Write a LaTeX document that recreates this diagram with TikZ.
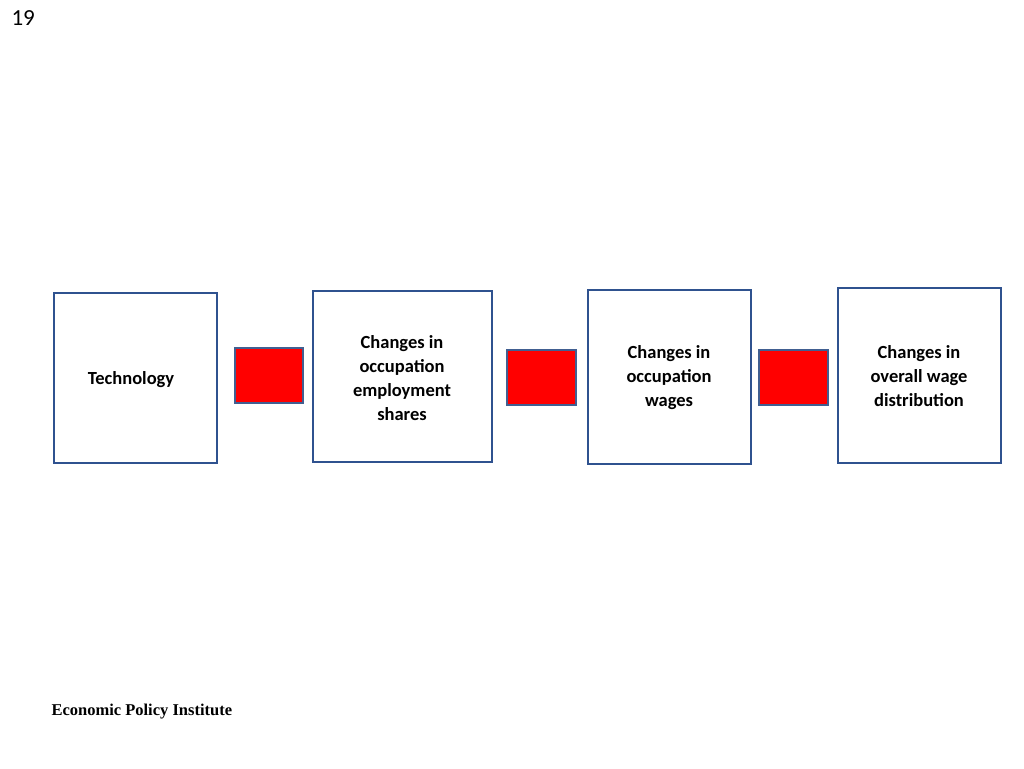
\documentclass[tikz,border=0pt]{standalone}
\usepackage{fontspec}
\setmainfont{Carlito}
\newfontfamily\epifont{Liberation Serif}
\begin{document}
\begin{tikzpicture}[x=1pt,y=-1pt,
  box/.style={draw={rgb,255:red,47;green,82;blue,143},line width=2pt,fill=white},
  red/.style={draw={rgb,255:red,65;green,95;blue,145},line width=2pt,fill={rgb,255:red,255;green,0;blue,0}},
  lbl/.style={font=\fontsize{18.5}{24}\selectfont\bfseries,align=center}]
\useasboundingbox (0,0) rectangle (1024,768);
\node[anchor=north west,font=\fontsize{23}{26}\selectfont] (pg) at (8,7) {19};
\draw[box] (54,293) rectangle (217,463);
\draw[box] (313,291) rectangle (492,462);
\draw[box] (588,290) rectangle (751,464);
\draw[box] (838,288) rectangle (1001,463);
\draw[red] (235,348) rectangle (303,403);
\draw[red] (507,350) rectangle (576,405);
\draw[red] (759,350) rectangle (828,405);
\node[lbl] (t1) at (131,380) {Technology};
\node[lbl] (t2) at (402,378) {Changes in\\occupation\\employment\\shares};
\node[lbl] (t3) at (669,378) {Changes in\\occupation\\wages};
\node[lbl] (t4) at (919,376) {Changes in\\overall wage\\distribution};
\node[anchor=west,font=\epifont\bfseries\fontsize{16.5}{18}\selectfont] (epi) at (48,712) {Economic Policy Institute};
\end{tikzpicture}
\end{document}
